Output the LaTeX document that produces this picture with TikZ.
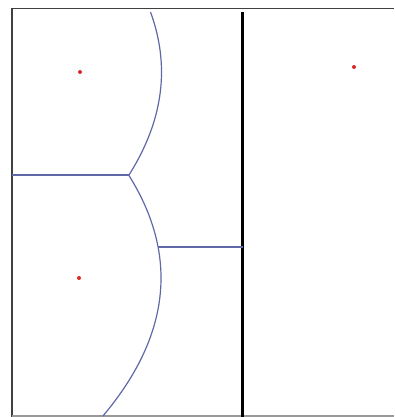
\documentclass[tikz,border=0pt]{standalone}
\definecolor{edgeblue}{RGB}{96,104,168}
\definecolor{sitered}{RGB}{220,40,40}
\begin{document}
\begin{tikzpicture}[x=1pt,y=-1pt,
  site/.style={circle,fill=sitered,inner sep=0pt,minimum size=4pt},
  edge/.style={draw=edgeblue,line width=1.2pt},
  frame/.style={draw=black!75,line width=1.8pt},
  wall/.style={draw=black,line width=3.6pt}]
\useasboundingbox (0,0) rectangle (394,417);
\fill[white] (0,0) rectangle (394,417);
% frame
\draw[frame] (394,8.5) -- (11.8,8.5) -- (11.8,417);
\draw[draw=black!40,line width=1.5pt] (11.8,416) -- (394,416);
% wall
\coordinate (wtop) at (242.5,12);
\coordinate (wbot) at (242.5,417);
\draw[wall] (wtop) -- (wbot);
% sites
\node[site] (s1) at (80,72) {};
\node[site] (s2) at (79,278) {};
\node[site] (s3) at (354,67) {};
% voronoi edges
\coordinate (j) at (129,175);
\coordinate (l) at (11.8,175);
\coordinate (k) at (158.1,247);
\coordinate (w) at (242.5,247);
\draw[edge] plot[domain=12:175,variable=\t,samples=60,smooth] ({161.5-((\t-72)/10)^2*(100/326)},\t);
\draw[edge] plot[domain=175:416,variable=\t,samples=80,smooth] ({161-((\t-278)/10)^2*(100/328)},\t);
\draw[edge] (l) -- (j);
\draw[edge] (k) -- (w);
\end{tikzpicture}
\end{document}
